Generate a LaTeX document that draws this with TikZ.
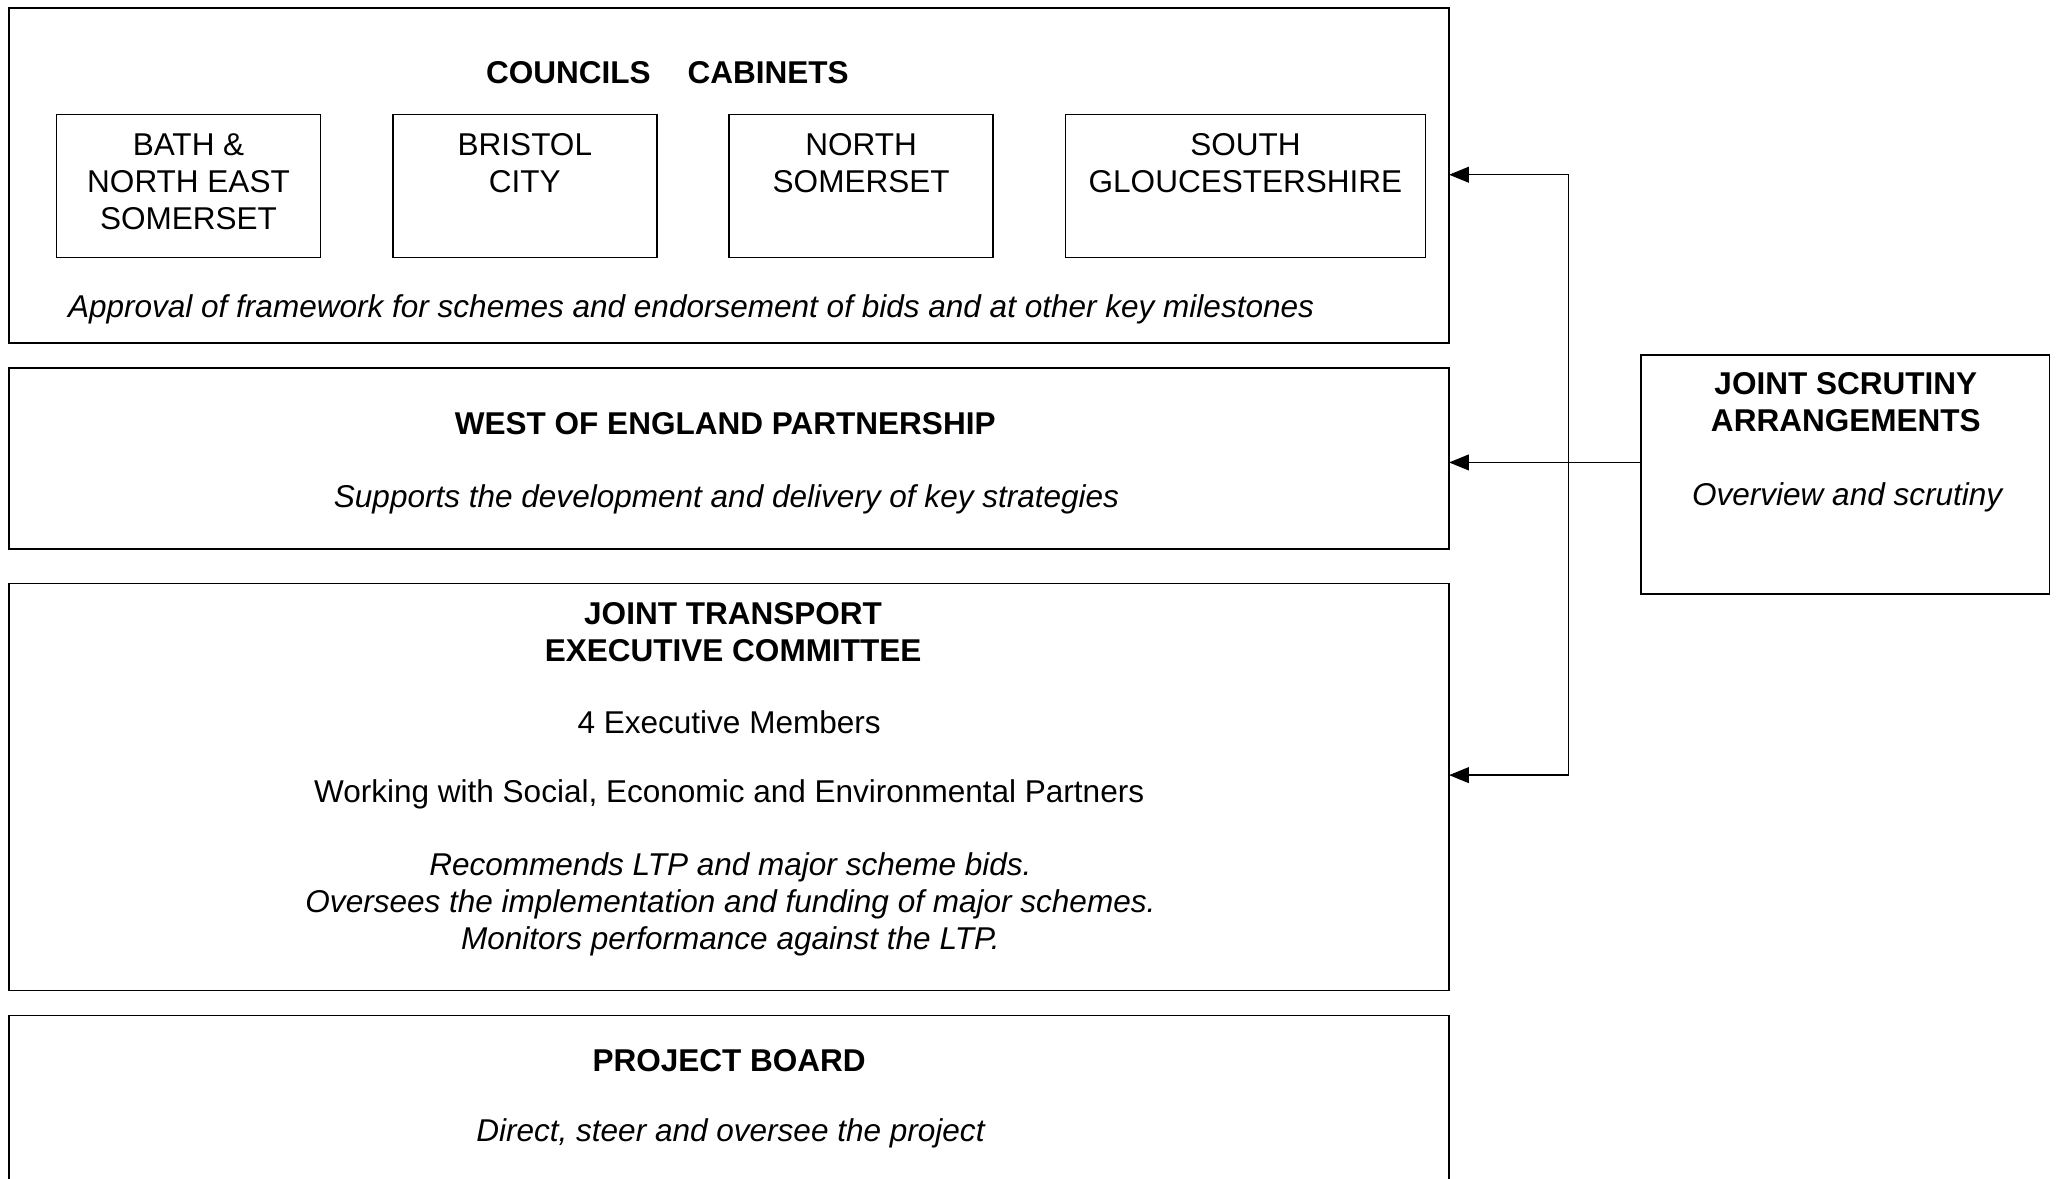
\documentclass[tikz,border=0pt]{standalone}
\usepackage{fontspec}
\setmainfont{Liberation Sans}
\usetikzlibrary{arrows.meta}
\begin{document}
\begin{tikzpicture}[x=0.5pt,y=-0.5pt,
  every node/.style={inner sep=0pt,outer sep=0pt},
  box/.style={draw=black,line width=0.6pt},
  txt/.style={font=\fontsize{12}{14}\selectfont,align=center,anchor=base},
  ttl/.style={txt,font=\fontsize{12}{14}\selectfont\bfseries},
  itx/.style={txt,font=\fontsize{12}{14}\selectfont\itshape},
  arr/.style={line width=0.5pt,-{Triangle[length=7.5pt,width=6pt]}},
  darr/.style={line width=0.5pt,{Triangle[length=7.5pt,width=6pt]}-{Triangle[length=7.5pt,width=6pt]}}]
\clip (0,0) rectangle (1568,897.4);
\fill[white] (0,0) rectangle (1568,897.4);
% main boxes
\node[box,minimum width=548pt,minimum height=127.5pt] (councils) at (555,133.5) {};
\node[box,minimum width=548pt,minimum height=69pt] (wep) at (555,349) {};
\node[box,minimum width=548pt,minimum height=155pt] (jtec) at (555,599) {};
\node[box,minimum width=548pt,minimum height=80pt] (pb) at (555,853) {};
\node[box,minimum width=155.5pt,minimum height=91pt] (scr) at (1404.5,361) {};
% council boxes
\node[box,minimum width=100.5pt,minimum height=54.5pt] (bnes) at (143.5,141.5) {};
\node[box,minimum width=100.5pt,minimum height=54.5pt] (bris) at (399.5,141.5) {};
\node[box,minimum width=100.5pt,minimum height=54.5pt] (nsom) at (655.5,141.5) {};
\node[box,minimum width=137pt,minimum height=54.5pt] (sglo) at (948,141.5) {};
% texts (anchor base = baseline of last line)
\node[ttl] (tcc) at (508,63.6) {COUNCILS\hspace{14pt}CABINETS};
\node[txt] (t1) at (143.5,174.6) {BATH \&\\NORTH EAST\\SOMERSET};
\node[txt] (t2) at (399.5,146.6) {BRISTOL\\CITY};
\node[txt] (t3) at (655.5,146.6) {NORTH\\SOMERSET};
\node[txt] (t4) at (948,146.6) {SOUTH\\GLOUCESTERSHIRE};
\node[itx] (tap) at (526,241.6) {Approval of framework for schemes and endorsement of bids and at other key milestones};
\node[ttl] (tw1) at (552,330.6) {WEST OF ENGLAND PARTNERSHIP};
\node[itx] (tw2) at (553,386.6) {Supports the development and delivery of key strategies};
\node[ttl] (tj1) at (558,503.6) {JOINT TRANSPORT\\EXECUTIVE COMMITTEE};
\node[txt] (tj2) at (555,558.6) {4 Executive Members};
\node[txt] (tj3) at (555,610.6) {Working with Social, Economic and Environmental Partners};
\node[itx] (tj4) at (556,722.6) {Recommends LTP and major scheme bids.\\Oversees the implementation and funding of major schemes.\\Monitors performance against the LTP.};
\node[ttl] (tp1) at (555,815.6) {PROJECT BOARD};
\node[itx] (tp2) at (556,868.6) {Direct, steer and oversee the project};
\node[ttl] (ts1) at (1405,328.6) {JOINT SCRUTINY\\ARRANGEMENTS};
\node[itx] (ts2) at (1406,384.6) {Overview and scrutiny};
% connectors
\coordinate (jt) at (1194,133);
\coordinate (jm) at (1194,352);
\coordinate (jb) at (1194,590);
\draw[darr] (councils.east |- jt) -- (jt) -- (jb) -- (jtec.east |- jb);
\draw[arr] (scr.west |- jm) -- (wep.east |- jm);
\end{tikzpicture}
\end{document}
